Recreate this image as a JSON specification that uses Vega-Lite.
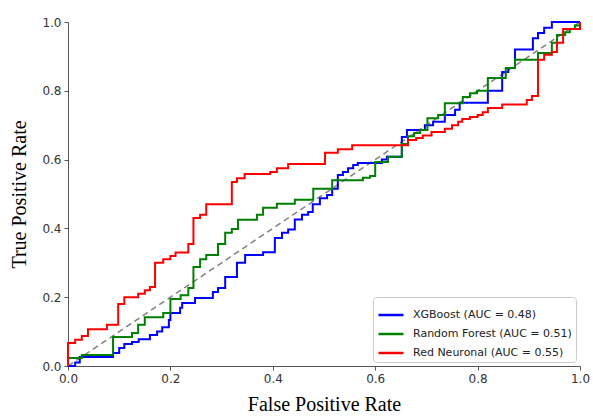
{
  "$schema": "https://vega.github.io/schema/vega-lite/v6.json",
  "width": 512,
  "height": 344,
  "autosize": {"type": "none"},
  "padding": {"left": 68, "top": 22, "right": 13, "bottom": 52},
  "background": "white",
  "config": {
    "view": {"stroke": null},
    "axis": {
      "grid": false,
      "labelFlush": false,
      "domainColor": "#555555",
      "tickColor": "#555555",
      "tickSize": 4,
      "labelFont": "DejaVu Sans",
      "labelFontSize": 12,
      "labelColor": "#333333",
      "titleFont": "Liberation Serif",
      "titleFontSize": 20,
      "titleFontWeight": "normal",
      "titleColor": "#000000"
    }
  },
  "layer": [
    {
      "data": {"values": [{"fpr": 0, "tpr": 0}, {"fpr": 1, "tpr": 1}]},
      "mark": {"type": "line", "color": "#808080", "strokeDash": [6, 4], "strokeWidth": 1.5},
      "encoding": {
        "x": {"field": "fpr", "type": "quantitative"},
        "y": {"field": "tpr", "type": "quantitative"}
      }
    },
    {
      "data": {"values": [
        {"m": "XGBoost (AUC = 0.48)", "i": 0, "fpr": 0, "tpr": 0},
        {"m": "XGBoost (AUC = 0.48)", "i": 1, "fpr": 0.014, "tpr": 0.01},
        {"m": "XGBoost (AUC = 0.48)", "i": 2, "fpr": 0.023, "tpr": 0.026},
        {"m": "XGBoost (AUC = 0.48)", "i": 3, "fpr": 0.088, "tpr": 0.038},
        {"m": "XGBoost (AUC = 0.48)", "i": 4, "fpr": 0.1, "tpr": 0.052},
        {"m": "XGBoost (AUC = 0.48)", "i": 5, "fpr": 0.11, "tpr": 0.064},
        {"m": "XGBoost (AUC = 0.48)", "i": 6, "fpr": 0.125, "tpr": 0.07},
        {"m": "XGBoost (AUC = 0.48)", "i": 7, "fpr": 0.138, "tpr": 0.078},
        {"m": "XGBoost (AUC = 0.48)", "i": 8, "fpr": 0.16, "tpr": 0.09},
        {"m": "XGBoost (AUC = 0.48)", "i": 9, "fpr": 0.174, "tpr": 0.1},
        {"m": "XGBoost (AUC = 0.48)", "i": 10, "fpr": 0.184, "tpr": 0.113},
        {"m": "XGBoost (AUC = 0.48)", "i": 11, "fpr": 0.197, "tpr": 0.134},
        {"m": "XGBoost (AUC = 0.48)", "i": 12, "fpr": 0.2, "tpr": 0.154},
        {"m": "XGBoost (AUC = 0.48)", "i": 13, "fpr": 0.219, "tpr": 0.169},
        {"m": "XGBoost (AUC = 0.48)", "i": 14, "fpr": 0.223, "tpr": 0.183},
        {"m": "XGBoost (AUC = 0.48)", "i": 15, "fpr": 0.248, "tpr": 0.198},
        {"m": "XGBoost (AUC = 0.48)", "i": 16, "fpr": 0.283, "tpr": 0.215},
        {"m": "XGBoost (AUC = 0.48)", "i": 17, "fpr": 0.293, "tpr": 0.227},
        {"m": "XGBoost (AUC = 0.48)", "i": 18, "fpr": 0.307, "tpr": 0.259},
        {"m": "XGBoost (AUC = 0.48)", "i": 19, "fpr": 0.33, "tpr": 0.3},
        {"m": "XGBoost (AUC = 0.48)", "i": 20, "fpr": 0.346, "tpr": 0.323},
        {"m": "XGBoost (AUC = 0.48)", "i": 21, "fpr": 0.381, "tpr": 0.331},
        {"m": "XGBoost (AUC = 0.48)", "i": 22, "fpr": 0.404, "tpr": 0.372},
        {"m": "XGBoost (AUC = 0.48)", "i": 23, "fpr": 0.418, "tpr": 0.387},
        {"m": "XGBoost (AUC = 0.48)", "i": 24, "fpr": 0.43, "tpr": 0.397},
        {"m": "XGBoost (AUC = 0.48)", "i": 25, "fpr": 0.443, "tpr": 0.426},
        {"m": "XGBoost (AUC = 0.48)", "i": 26, "fpr": 0.457, "tpr": 0.44},
        {"m": "XGBoost (AUC = 0.48)", "i": 27, "fpr": 0.469, "tpr": 0.448},
        {"m": "XGBoost (AUC = 0.48)", "i": 28, "fpr": 0.478, "tpr": 0.47},
        {"m": "XGBoost (AUC = 0.48)", "i": 29, "fpr": 0.492, "tpr": 0.488},
        {"m": "XGBoost (AUC = 0.48)", "i": 30, "fpr": 0.506, "tpr": 0.497},
        {"m": "XGBoost (AUC = 0.48)", "i": 31, "fpr": 0.516, "tpr": 0.515},
        {"m": "XGBoost (AUC = 0.48)", "i": 32, "fpr": 0.527, "tpr": 0.555},
        {"m": "XGBoost (AUC = 0.48)", "i": 33, "fpr": 0.537, "tpr": 0.564},
        {"m": "XGBoost (AUC = 0.48)", "i": 34, "fpr": 0.547, "tpr": 0.575},
        {"m": "XGBoost (AUC = 0.48)", "i": 35, "fpr": 0.557, "tpr": 0.584},
        {"m": "XGBoost (AUC = 0.48)", "i": 36, "fpr": 0.566, "tpr": 0.59},
        {"m": "XGBoost (AUC = 0.48)", "i": 37, "fpr": 0.613, "tpr": 0.6},
        {"m": "XGBoost (AUC = 0.48)", "i": 38, "fpr": 0.623, "tpr": 0.608},
        {"m": "XGBoost (AUC = 0.48)", "i": 39, "fpr": 0.652, "tpr": 0.666},
        {"m": "XGBoost (AUC = 0.48)", "i": 40, "fpr": 0.662, "tpr": 0.686},
        {"m": "XGBoost (AUC = 0.48)", "i": 41, "fpr": 0.697, "tpr": 0.7},
        {"m": "XGBoost (AUC = 0.48)", "i": 42, "fpr": 0.713, "tpr": 0.71},
        {"m": "XGBoost (AUC = 0.48)", "i": 43, "fpr": 0.736, "tpr": 0.73},
        {"m": "XGBoost (AUC = 0.48)", "i": 44, "fpr": 0.756, "tpr": 0.745},
        {"m": "XGBoost (AUC = 0.48)", "i": 45, "fpr": 0.765, "tpr": 0.765},
        {"m": "XGBoost (AUC = 0.48)", "i": 46, "fpr": 0.82, "tpr": 0.8},
        {"m": "XGBoost (AUC = 0.48)", "i": 47, "fpr": 0.848, "tpr": 0.855},
        {"m": "XGBoost (AUC = 0.48)", "i": 48, "fpr": 0.86, "tpr": 0.866},
        {"m": "XGBoost (AUC = 0.48)", "i": 49, "fpr": 0.873, "tpr": 0.92},
        {"m": "XGBoost (AUC = 0.48)", "i": 50, "fpr": 0.908, "tpr": 0.953},
        {"m": "XGBoost (AUC = 0.48)", "i": 51, "fpr": 0.918, "tpr": 0.968},
        {"m": "XGBoost (AUC = 0.48)", "i": 52, "fpr": 0.93, "tpr": 0.983},
        {"m": "XGBoost (AUC = 0.48)", "i": 53, "fpr": 0.945, "tpr": 1.0},
        {"m": "XGBoost (AUC = 0.48)", "i": 54, "fpr": 1.0, "tpr": 1.0},

        {"m": "Random Forest (AUC = 0.51)", "i": 0, "fpr": 0, "tpr": 0},
        {"m": "Random Forest (AUC = 0.51)", "i": 1, "fpr": 0, "tpr": 0.023},
        {"m": "Random Forest (AUC = 0.51)", "i": 2, "fpr": 0.027, "tpr": 0.032},
        {"m": "Random Forest (AUC = 0.51)", "i": 3, "fpr": 0.088, "tpr": 0.084},
        {"m": "Random Forest (AUC = 0.51)", "i": 4, "fpr": 0.125, "tpr": 0.096},
        {"m": "Random Forest (AUC = 0.51)", "i": 5, "fpr": 0.137, "tpr": 0.12},
        {"m": "Random Forest (AUC = 0.51)", "i": 6, "fpr": 0.15, "tpr": 0.142},
        {"m": "Random Forest (AUC = 0.51)", "i": 7, "fpr": 0.186, "tpr": 0.154},
        {"m": "Random Forest (AUC = 0.51)", "i": 8, "fpr": 0.2, "tpr": 0.195},
        {"m": "Random Forest (AUC = 0.51)", "i": 9, "fpr": 0.22, "tpr": 0.206},
        {"m": "Random Forest (AUC = 0.51)", "i": 10, "fpr": 0.235, "tpr": 0.227},
        {"m": "Random Forest (AUC = 0.51)", "i": 11, "fpr": 0.245, "tpr": 0.288},
        {"m": "Random Forest (AUC = 0.51)", "i": 12, "fpr": 0.258, "tpr": 0.31},
        {"m": "Random Forest (AUC = 0.51)", "i": 13, "fpr": 0.27, "tpr": 0.323},
        {"m": "Random Forest (AUC = 0.51)", "i": 14, "fpr": 0.293, "tpr": 0.355},
        {"m": "Random Forest (AUC = 0.51)", "i": 15, "fpr": 0.307, "tpr": 0.387},
        {"m": "Random Forest (AUC = 0.51)", "i": 16, "fpr": 0.32, "tpr": 0.398},
        {"m": "Random Forest (AUC = 0.51)", "i": 17, "fpr": 0.332, "tpr": 0.425},
        {"m": "Random Forest (AUC = 0.51)", "i": 18, "fpr": 0.369, "tpr": 0.44},
        {"m": "Random Forest (AUC = 0.51)", "i": 19, "fpr": 0.381, "tpr": 0.46},
        {"m": "Random Forest (AUC = 0.51)", "i": 20, "fpr": 0.408, "tpr": 0.472},
        {"m": "Random Forest (AUC = 0.51)", "i": 21, "fpr": 0.443, "tpr": 0.483},
        {"m": "Random Forest (AUC = 0.51)", "i": 22, "fpr": 0.479, "tpr": 0.515},
        {"m": "Random Forest (AUC = 0.51)", "i": 23, "fpr": 0.516, "tpr": 0.54},
        {"m": "Random Forest (AUC = 0.51)", "i": 24, "fpr": 0.576, "tpr": 0.547},
        {"m": "Random Forest (AUC = 0.51)", "i": 25, "fpr": 0.59, "tpr": 0.552},
        {"m": "Random Forest (AUC = 0.51)", "i": 26, "fpr": 0.6, "tpr": 0.593},
        {"m": "Random Forest (AUC = 0.51)", "i": 27, "fpr": 0.625, "tpr": 0.608},
        {"m": "Random Forest (AUC = 0.51)", "i": 28, "fpr": 0.652, "tpr": 0.645},
        {"m": "Random Forest (AUC = 0.51)", "i": 29, "fpr": 0.664, "tpr": 0.668},
        {"m": "Random Forest (AUC = 0.51)", "i": 30, "fpr": 0.676, "tpr": 0.677},
        {"m": "Random Forest (AUC = 0.51)", "i": 31, "fpr": 0.688, "tpr": 0.686},
        {"m": "Random Forest (AUC = 0.51)", "i": 32, "fpr": 0.702, "tpr": 0.72},
        {"m": "Random Forest (AUC = 0.51)", "i": 33, "fpr": 0.723, "tpr": 0.73},
        {"m": "Random Forest (AUC = 0.51)", "i": 34, "fpr": 0.736, "tpr": 0.764},
        {"m": "Random Forest (AUC = 0.51)", "i": 35, "fpr": 0.771, "tpr": 0.782},
        {"m": "Random Forest (AUC = 0.51)", "i": 36, "fpr": 0.785, "tpr": 0.793},
        {"m": "Random Forest (AUC = 0.51)", "i": 37, "fpr": 0.799, "tpr": 0.8},
        {"m": "Random Forest (AUC = 0.51)", "i": 38, "fpr": 0.82, "tpr": 0.837},
        {"m": "Random Forest (AUC = 0.51)", "i": 39, "fpr": 0.855, "tpr": 0.866},
        {"m": "Random Forest (AUC = 0.51)", "i": 40, "fpr": 0.873, "tpr": 0.89},
        {"m": "Random Forest (AUC = 0.51)", "i": 41, "fpr": 0.918, "tpr": 0.91},
        {"m": "Random Forest (AUC = 0.51)", "i": 42, "fpr": 0.945, "tpr": 0.94},
        {"m": "Random Forest (AUC = 0.51)", "i": 43, "fpr": 0.955, "tpr": 0.962},
        {"m": "Random Forest (AUC = 0.51)", "i": 44, "fpr": 0.971, "tpr": 0.97},
        {"m": "Random Forest (AUC = 0.51)", "i": 45, "fpr": 0.98, "tpr": 0.98},
        {"m": "Random Forest (AUC = 0.51)", "i": 46, "fpr": 0.99, "tpr": 0.99},
        {"m": "Random Forest (AUC = 0.51)", "i": 47, "fpr": 1.0, "tpr": 1.0},

        {"m": "Red Neuronal (AUC = 0.55)", "i": 0, "fpr": 0, "tpr": 0},
        {"m": "Red Neuronal (AUC = 0.55)", "i": 1, "fpr": 0, "tpr": 0.067},
        {"m": "Red Neuronal (AUC = 0.55)", "i": 2, "fpr": 0.014, "tpr": 0.076},
        {"m": "Red Neuronal (AUC = 0.55)", "i": 3, "fpr": 0.027, "tpr": 0.087},
        {"m": "Red Neuronal (AUC = 0.55)", "i": 4, "fpr": 0.039, "tpr": 0.107},
        {"m": "Red Neuronal (AUC = 0.55)", "i": 5, "fpr": 0.076, "tpr": 0.12},
        {"m": "Red Neuronal (AUC = 0.55)", "i": 6, "fpr": 0.098, "tpr": 0.18},
        {"m": "Red Neuronal (AUC = 0.55)", "i": 7, "fpr": 0.11, "tpr": 0.2},
        {"m": "Red Neuronal (AUC = 0.55)", "i": 8, "fpr": 0.137, "tpr": 0.21},
        {"m": "Red Neuronal (AUC = 0.55)", "i": 9, "fpr": 0.15, "tpr": 0.22},
        {"m": "Red Neuronal (AUC = 0.55)", "i": 10, "fpr": 0.16, "tpr": 0.23},
        {"m": "Red Neuronal (AUC = 0.55)", "i": 11, "fpr": 0.17, "tpr": 0.3},
        {"m": "Red Neuronal (AUC = 0.55)", "i": 12, "fpr": 0.186, "tpr": 0.31},
        {"m": "Red Neuronal (AUC = 0.55)", "i": 13, "fpr": 0.2, "tpr": 0.32},
        {"m": "Red Neuronal (AUC = 0.55)", "i": 14, "fpr": 0.21, "tpr": 0.33},
        {"m": "Red Neuronal (AUC = 0.55)", "i": 15, "fpr": 0.235, "tpr": 0.355},
        {"m": "Red Neuronal (AUC = 0.55)", "i": 16, "fpr": 0.245, "tpr": 0.43},
        {"m": "Red Neuronal (AUC = 0.55)", "i": 17, "fpr": 0.258, "tpr": 0.44},
        {"m": "Red Neuronal (AUC = 0.55)", "i": 18, "fpr": 0.27, "tpr": 0.47},
        {"m": "Red Neuronal (AUC = 0.55)", "i": 19, "fpr": 0.32, "tpr": 0.535},
        {"m": "Red Neuronal (AUC = 0.55)", "i": 20, "fpr": 0.33, "tpr": 0.546},
        {"m": "Red Neuronal (AUC = 0.55)", "i": 21, "fpr": 0.345, "tpr": 0.558},
        {"m": "Red Neuronal (AUC = 0.55)", "i": 22, "fpr": 0.395, "tpr": 0.564},
        {"m": "Red Neuronal (AUC = 0.55)", "i": 23, "fpr": 0.408, "tpr": 0.575},
        {"m": "Red Neuronal (AUC = 0.55)", "i": 24, "fpr": 0.43, "tpr": 0.587},
        {"m": "Red Neuronal (AUC = 0.55)", "i": 25, "fpr": 0.502, "tpr": 0.62},
        {"m": "Red Neuronal (AUC = 0.55)", "i": 26, "fpr": 0.527, "tpr": 0.63},
        {"m": "Red Neuronal (AUC = 0.55)", "i": 27, "fpr": 0.555, "tpr": 0.642},
        {"m": "Red Neuronal (AUC = 0.55)", "i": 28, "fpr": 0.664, "tpr": 0.657},
        {"m": "Red Neuronal (AUC = 0.55)", "i": 29, "fpr": 0.68, "tpr": 0.663},
        {"m": "Red Neuronal (AUC = 0.55)", "i": 30, "fpr": 0.693, "tpr": 0.67},
        {"m": "Red Neuronal (AUC = 0.55)", "i": 31, "fpr": 0.71, "tpr": 0.68},
        {"m": "Red Neuronal (AUC = 0.55)", "i": 32, "fpr": 0.736, "tpr": 0.69},
        {"m": "Red Neuronal (AUC = 0.55)", "i": 33, "fpr": 0.75, "tpr": 0.7},
        {"m": "Red Neuronal (AUC = 0.55)", "i": 34, "fpr": 0.762, "tpr": 0.71},
        {"m": "Red Neuronal (AUC = 0.55)", "i": 35, "fpr": 0.77, "tpr": 0.718},
        {"m": "Red Neuronal (AUC = 0.55)", "i": 36, "fpr": 0.785, "tpr": 0.724},
        {"m": "Red Neuronal (AUC = 0.55)", "i": 37, "fpr": 0.8, "tpr": 0.73},
        {"m": "Red Neuronal (AUC = 0.55)", "i": 38, "fpr": 0.81, "tpr": 0.738},
        {"m": "Red Neuronal (AUC = 0.55)", "i": 39, "fpr": 0.82, "tpr": 0.75},
        {"m": "Red Neuronal (AUC = 0.55)", "i": 40, "fpr": 0.848, "tpr": 0.76},
        {"m": "Red Neuronal (AUC = 0.55)", "i": 41, "fpr": 0.896, "tpr": 0.773},
        {"m": "Red Neuronal (AUC = 0.55)", "i": 42, "fpr": 0.906, "tpr": 0.785},
        {"m": "Red Neuronal (AUC = 0.55)", "i": 43, "fpr": 0.918, "tpr": 0.89},
        {"m": "Red Neuronal (AUC = 0.55)", "i": 44, "fpr": 0.93, "tpr": 0.905},
        {"m": "Red Neuronal (AUC = 0.55)", "i": 45, "fpr": 0.945, "tpr": 0.913},
        {"m": "Red Neuronal (AUC = 0.55)", "i": 46, "fpr": 0.955, "tpr": 0.94},
        {"m": "Red Neuronal (AUC = 0.55)", "i": 47, "fpr": 0.967, "tpr": 0.98},
        {"m": "Red Neuronal (AUC = 0.55)", "i": 48, "fpr": 1.0, "tpr": 1.0}
      ]},
      "mark": {"type": "line", "interpolate": "step-after", "strokeWidth": 2},
      "encoding": {
        "x": {
          "field": "fpr", "type": "quantitative",
          "scale": {"domain": [0, 1], "nice": false},
          "axis": {"title": "False Positive Rate", "values": [0, 0.2, 0.4, 0.6, 0.8, 1.0], "format": ".1f", "titlePadding": 10, "labelPadding": 3}
        },
        "y": {
          "field": "tpr", "type": "quantitative",
          "scale": {"domain": [0, 1], "nice": false},
          "axis": {"title": "True Positive Rate", "values": [0, 0.2, 0.4, 0.6, 0.8, 1.0], "format": ".1f", "titlePadding": 12, "labelPadding": 3}
        },
        "order": {"field": "i", "type": "quantitative"},
        "color": {
          "field": "m", "type": "nominal",
          "scale": {
            "domain": ["XGBoost (AUC = 0.48)", "Random Forest (AUC = 0.51)", "Red Neuronal (AUC = 0.55)"],
            "range": ["#0000ff", "#008000", "#ff0000"]
          },
          "legend": {
            "title": null,
            "orient": "bottom-right",
            "offset": 4,
            "symbolType": "stroke",
            "symbolSize": 625,
            "symbolStrokeWidth": 2.5,
            "labelFont": "DejaVu Sans",
            "labelFontSize": 11,
            "labelColor": "#222222",
            "labelOffset": 8,
            "rowPadding": -9,
            "padding": 4,
            "strokeColor": "#cccccc",
            "fillColor": "white",
            "cornerRadius": 3,
            "labelLimit": 300
          }
        }
      }
    }
  ]
}
